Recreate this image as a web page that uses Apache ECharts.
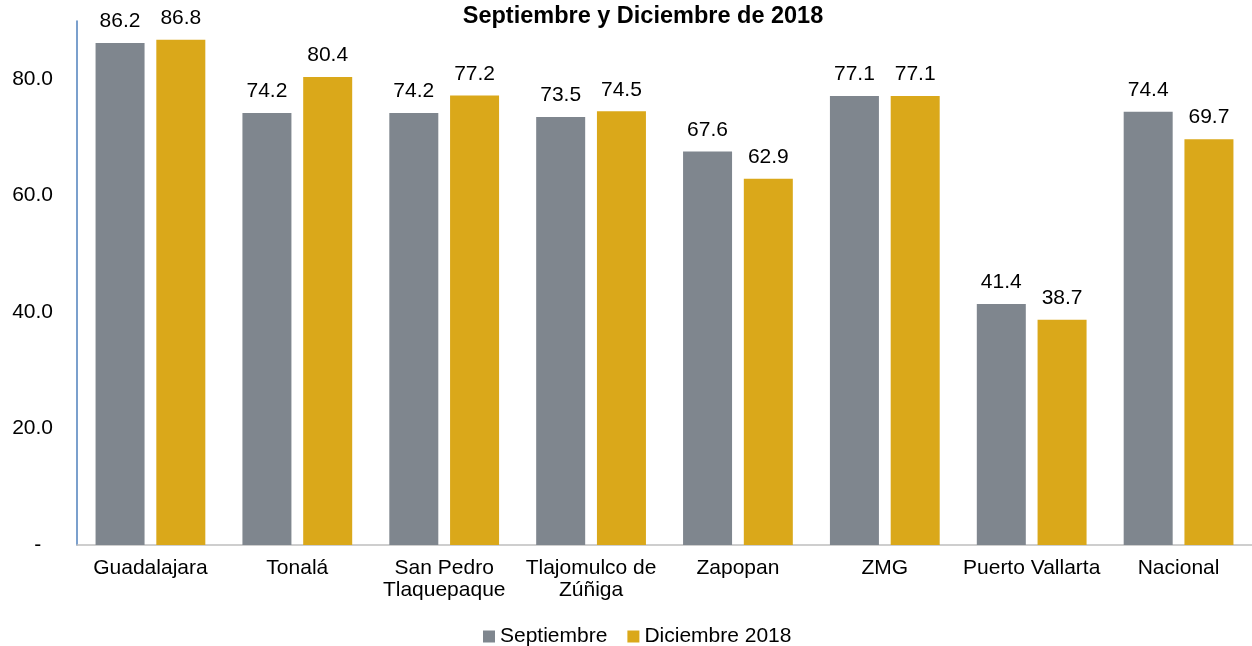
<!DOCTYPE html>
<head>
    <meta charset="UTF-8">
    <title>Septiembre y Diciembre de 2018</title>
    <script src="https://cdn.jsdelivr.net/npm/echarts@6/dist/echarts.min.js"></script>
</head>
<body style="margin:0">
<div id="chart" style="height:646px;width:1252px;"></div>
<script type="text/javascript">

    var municipios = ['Guadalajara', 'Tonalá', 'San Pedro\nTlaquepaque', 'Tlajomulco de\nZúñiga', 'Zapopan', 'ZMG', 'Puerto Vallarta', 'Nacional'];
    var septiembre = [86.2, 74.2, 74.2, 73.5, 67.6, 77.1, 41.4, 74.4];
    var diciembre = [86.8, 80.4, 77.2, 74.5, 62.9, 77.1, 38.7, 69.7];

    var fuente = 'Arial, "Liberation Sans", sans-serif';

    var myChart = echarts.init(document.getElementById('chart'));

    var etiqueta = {
        show: true,
        position: 'top',
        distance: 11,
        color: '#000',
        fontSize: 21,
        fontFamily: fuente,
        formatter: function (p) {
            return p.value.toFixed(1)
        }
    };

    myChart.setOption({
        animation: false,
        title: {
            text: 'Septiembre y Diciembre de 2018',
            left: 638,
            textAlign: 'center',
            top: 0,
            textStyle: {fontSize: 23.5, fontWeight: 'bold', color: '#000', fontFamily: fuente}
        },
        legend: {
            data: ['Septiembre', 'Diciembre 2018'],
            top: 621,
            left: 478,
            itemWidth: 12,
            itemHeight: 12,
            itemGap: 20,
            icon: 'rect',
            textStyle: {fontSize: 21, color: '#000', fontFamily: fuente}
        },
        grid: {left: 77, top: 21, width: 1184, bottom: 101, containLabel: false},
        xAxis: {
            type: 'category',
            data: municipios,
            axisLine: {lineStyle: {color: '#bfbfbf', width: 1.5}},
            axisTick: {show: false},
            axisLabel: {color: '#000', fontSize: 21, fontFamily: fuente, margin: 12, lineHeight: 22, interval: 0}
        },
        yAxis: {
            type: 'value',
            min: 0,
            max: 90,
            interval: 20,
            splitLine: {show: false},
            axisLine: {show: true, lineStyle: {color: '#4f81bd', width: 1.5}},
            axisTick: {show: false},
            axisLabel: {
                color: '#000', fontSize: 21, fontFamily: fuente, margin: 24, showMaxLabel: false,
                formatter: function (v) {
                    return v === 0 ? '-  ' : v.toFixed(1)
                }
            }
        },
        series: [
            {
                name: 'Septiembre',
                type: 'bar',
                data: septiembre,
                barWidth: 49,
                barGap: '24%',
                itemStyle: {color: '#7f868e'},
                label: etiqueta
            },
            {
                name: 'Diciembre 2018',
                type: 'bar',
                data: diciembre,
                barWidth: 49,
                itemStyle: {color: '#daa81a'},
                label: etiqueta
            }
        ]
    });
</script>
</body>
</html>
